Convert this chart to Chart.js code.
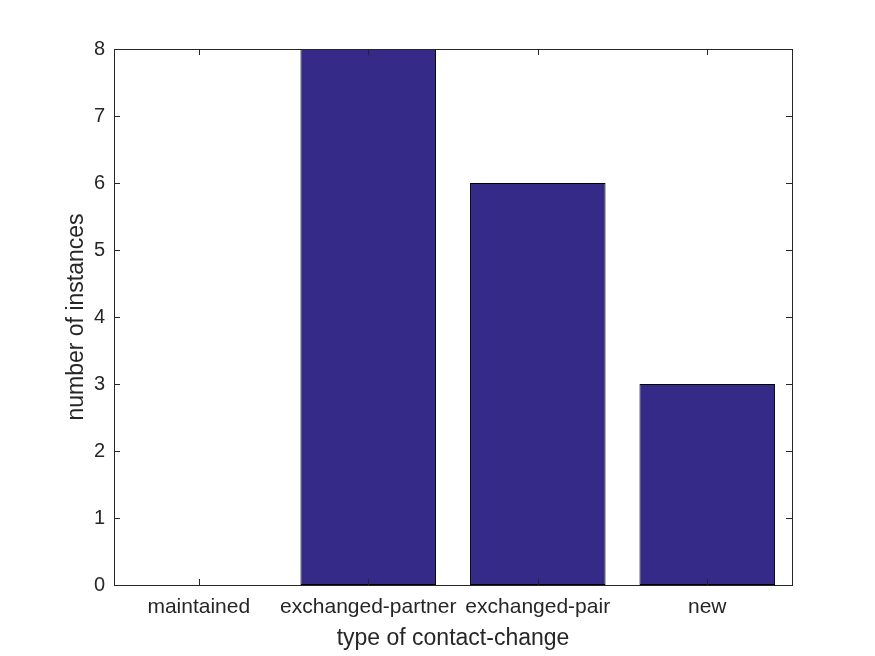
<!DOCTYPE html>
<html>
<head>
<meta charset="utf-8">
<script src="https://cdn.jsdelivr.net/npm/chart.js@4/dist/chart.umd.min.js"></script>
<style>
  html, body { margin: 0; padding: 0; background: #fff; }
  #wrap { width: 875px; height: 656px; }
</style>
</head>
<body>
<div id="wrap"><canvas id="barChart" width="875" height="656"></canvas></div>
<script>
const categories = ['maintained', 'exchanged-partner', 'exchanged-pair', 'new'];
const instances = [0, 8, 6, 3];
const yTicks = [0, 1, 2, 3, 4, 5, 6, 7, 8];

const axisColor = '#262626';
const fontFamily = '"Liberation Sans", Arial, Helvetica, sans-serif';

// MATLAB style box with inward ticks on all four sides
const boxTicks = {
  id: 'boxTicks',
  afterDraw(chart) {
    const { ctx, chartArea: a, scales } = chart;
    const len = 6;
    ctx.save();
    ctx.strokeStyle = axisColor;
    ctx.lineWidth = 1;
    ctx.beginPath();
    scales.x.ticks.forEach((t, i) => {
      const px = Math.round(scales.x.getPixelForTick(i)) + 0.5;
      ctx.moveTo(px, a.bottom); ctx.lineTo(px, a.bottom - len);
      ctx.moveTo(px, a.top); ctx.lineTo(px, a.top + len);
    });
    scales.y.ticks.forEach((t, i) => {
      const py = Math.round(scales.y.getPixelForTick(i)) + 0.5;
      ctx.moveTo(a.left, py); ctx.lineTo(a.left + len, py);
      ctx.moveTo(a.right, py); ctx.lineTo(a.right - len, py);
    });
    ctx.stroke();
    ctx.strokeRect(Math.round(a.left) + 0.5, Math.round(a.top) + 0.5,
      Math.round(a.right - a.left), Math.round(a.bottom - a.top));
    ctx.restore();
  }
};

new Chart(document.getElementById('barChart'), {
  type: 'bar',
  data: {
    labels: categories,
    datasets: [{
      data: instances,
      backgroundColor: '#352A87',
      borderColor: '#000000',
      borderWidth: 1,
      borderSkipped: false,
      categoryPercentage: 0.8,
      barPercentage: 1.0,
    }],
  },
  options: {
    responsive: false,
    animation: false,
    layout: { padding: { left: 0, top: 49, right: 83, bottom: 0 } },
    plugins: {
      legend: { display: false },
      tooltip: { enabled: false },
    },
    scales: {
      x: {
        grid: { display: false, drawTicks: false, tickLength: 0 },
        border: { display: false },
        ticks: {
          color: axisColor,
          font: { family: fontFamily, size: 21 },
          padding: 10,
          maxRotation: 0,
          autoSkip: false,
        },
        title: {
          display: true,
          text: 'type of contact-change',
          color: axisColor,
          font: { family: fontFamily, size: 23 },
          padding: { top: 0, bottom: 4 },
        },
        afterFit(scale) { scale.height = 71; },
      },
      y: {
        min: 0,
        max: 8,
        afterBuildTicks(scale) { scale.ticks = yTicks.map((v) => ({ value: v })); },
        grid: { display: false, drawTicks: false, tickLength: 0 },
        border: { display: false },
        ticks: {
          color: axisColor,
          font: { family: fontFamily, size: 20 },
          padding: 9,
        },
        title: {
          display: true,
          text: 'number of instances',
          color: axisColor,
          font: { family: fontFamily, size: 23 },
          padding: { top: 63, bottom: 0 },
        },
        afterFit(scale) { scale.width = 114; },
      },
    },
  },
  plugins: [boxTicks],
});
</script>
</body>
</html>
